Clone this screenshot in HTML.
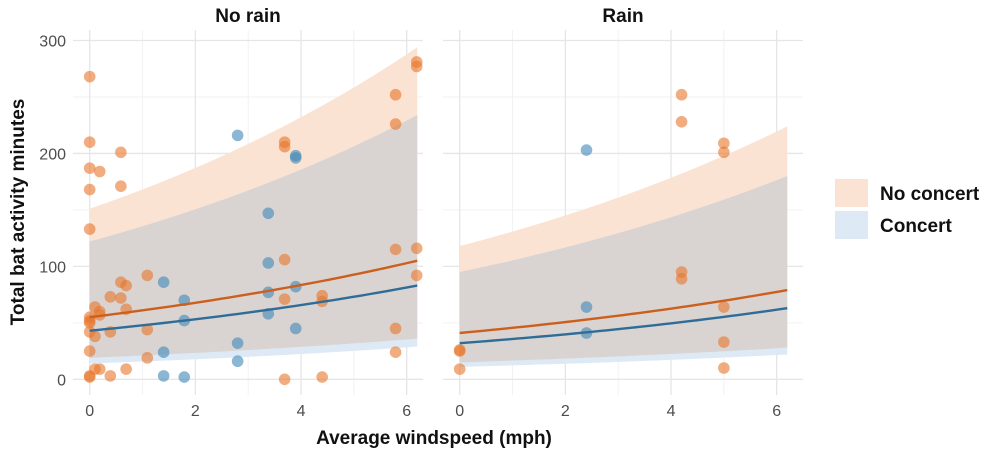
<!DOCTYPE html>
<html><head><meta charset="utf-8"><style>
body{margin:0;background:#fff;width:1000px;height:452px;overflow:hidden;font-family:"Liberation Sans",sans-serif}
</style></head><body>
<svg id="chart" width="1000" height="452" xmlns="http://www.w3.org/2000/svg"></svg>
<script>
const xTicks=[0,2,4,6];
const yTicks=[0,100,200,300];
const panels=["No rain","Rain"];
const groups=["No concert","Concert"];
// points per panel/group: x values, y values
const nrNcX=[0,0,0,0.19,0.59,0,0.59,0,0,0,0,0.1,0.19,0.19,0,0.1,0,0.1,0.19,0,0,0.39,0.59,0.69,0.59,0.69,0.39,0.39,0.69,1.09,1.09,1.09,3.69,3.69,3.69,3.69,3.69,4.4,4.4,4.4,5.79,5.79,5.79,5.79,5.79,6.19,6.19,6.19,6.19];
const nrNcY=[268,210,187,184,201,168,171,133,55,52,50,64,60,57,42,38,25,9,9,2,3,73,86,83,72,62,42,3,9,92,44,19,210,206,106,71,0,74,69,2,252,226,115,45,24,281,277,116,92];
const nrCX=[2.8,3.38,3.9,3.9,3.38,3.38,3.9,3.38,3.9,2.8,2.8,1.4,1.79,1.79,1.4,1.4,1.79];
const nrCY=[216,147,198,196,103,77,82,58,45,32,16,86,70,52,24,3,2];
const rNcX=[0,0,0,4.2,4.2,4.2,4.2,5,5,5,5,5];
const rNcY=[25,26,9,252,228,95,89,209,201,64,33,10];
const rCX=[2.4,2.4,2.4];
const rCY=[203,64,41];
// model fits at x=0 and x=6.2: [fit, lower, upper]
const nrNcStart=[55,19,151], nrNcEnd=[105,36,294];
const nrCStart=[43,14,122], nrCEnd=[83,29,234];
const rNcStart=[41,15,118], rNcEnd=[79,28,224];
const rCStart=[32,11,95], rCEnd=[63,22,180];

const NS="http://www.w3.org/2000/svg";
const svg=document.getElementById('chart');
function mk(t,a,p){const e=document.createElementNS(NS,t);for(const k in a)e.setAttribute(k,a[k]);(p||svg).appendChild(e);return e;}
const panelX=[[73,423,89.7],[443,803,459.7]];
const pxPerX=52.83;
const yScale=v=>379.3-v*1.1293;
const COL={o:"#e8742a",b:"#3f87b8",lo:"#cc5f1c",lb:"#2f6d97",fo:"#fbe3d3",fb:"#dde9f4",ov:"#d9d4d2"};
const curve=(s,e,i,x)=>s[i]*Math.pow(e[i]/s[i],x/6.2);
const data=[[[nrNcX,nrNcY,nrNcStart,nrNcEnd],[nrCX,nrCY,nrCStart,nrCEnd]],[[rNcX,rNcY,rNcStart,rNcEnd],[rCX,rCY,rCStart,rCEnd]]];

panels.forEach((pn,pi)=>{
  const [l,r,x0]=panelX[pi];
  const xs=v=>x0+v*pxPerX;
  const g=mk('g',{});
  
  
  // grid
  [1,3,5].forEach(v=>{const e=mk('line',{x1:xs(v),x2:xs(v),y1:30,y2:395,stroke:'#f2f2f2','stroke-width':1},g);});
  [50,150,250].forEach(v=>{const e=mk('line',{x1:l,x2:r,y1:yScale(v),y2:yScale(v),stroke:'#f2f2f2','stroke-width':1},g);});
  xTicks.forEach(v=>{const e=mk('line',{x1:xs(v),x2:xs(v),y1:30,y2:395,stroke:'#e6e6e6','stroke-width':1.3},g);
    const t=mk('text',{x:xs(v),y:416,'text-anchor':'middle','font-size':16,fill:'#4d4d4d'},g);t.textContent=v;});
  yTicks.forEach(v=>{const e=mk('line',{x1:l,x2:r,y1:yScale(v),y2:yScale(v),stroke:'#e6e6e6','stroke-width':1.3},g);
    if(pi===0){const t=mk('text',{x:66,y:yScale(v)+6,'text-anchor':'end','font-size':16,fill:'#4d4d4d'},g);t.textContent=v;}});
  const tt=mk('text',{x:(l+r)/2,y:22,'text-anchor':'middle','font-size':19,'font-weight':'bold',fill:'#111'},g);tt.textContent=pn;
  
  const [A,B]=data[pi];
  const N=40,xsArr=[];for(let i=0;i<=N;i++)xsArr.push(6.2*i/N);
  const band=(fu,fl)=>{let d=xsArr.map((x,i)=>(i?'L':'M')+xs(x)+','+yScale(fu(x))).join('');d+=xsArr.slice().reverse().map(x=>'L'+xs(x)+','+yScale(fl(x))).join('');return d+'Z';};
  let e=mk('path',{d:band(x=>curve(A[2],A[3],2,x),x=>curve(A[2],A[3],1,x)),fill:COL.fo},g);
  e=mk('path',{d:band(x=>curve(B[2],B[3],2,x),x=>curve(B[2],B[3],1,x)),fill:COL.fb},g);
  e=mk('path',{d:band(x=>Math.min(curve(A[2],A[3],2,x),curve(B[2],B[3],2,x)),x=>Math.max(curve(A[2],A[3],1,x),curve(B[2],B[3],1,x))),fill:COL.ov},g);
  [[A,COL.o,'no-concert-point'],[B,COL.b,'concert-point']].forEach(([S,c,n])=>{S[0].forEach((x,i)=>{const p=mk('circle',{cx:xs(x),cy:yScale(S[1][i]),r:5.8,fill:c,'fill-opacity':0.6},g);});});
  [[A,COL.lo,'no-concert-fit-line'],[B,COL.lb,'concert-fit-line']].forEach(([S,c,n])=>{const d=xsArr.map((x,i)=>(i?'L':'M')+xs(x)+','+yScale(curve(S[2],S[3],0,x))).join('');const p=mk('path',{d,fill:'none',stroke:c,'stroke-width':2.4},g);});
});
let t=mk('text',{x:434,y:444,'text-anchor':'middle','font-size':19,'font-weight':'bold',fill:'#111'});t.textContent='Average windspeed (mph)';
t=mk('text',{x:0,y:0,transform:'translate(24,212) rotate(-90)','text-anchor':'middle','font-size':19,'font-weight':'bold',fill:'#111'});t.textContent='Total bat activity minutes';
const lg=mk('g',{});
[[COL.fo,'No concert',179],[COL.fb,'Concert',211]].forEach(([c,n,y])=>{const r=mk('rect',{x:835,y,width:33,height:28,fill:c},lg);
  const tx=mk('text',{x:880,y:y+21,'font-size':19,'font-weight':'bold',fill:'#111'},lg);tx.textContent=n;});
</script>
</body></html>
